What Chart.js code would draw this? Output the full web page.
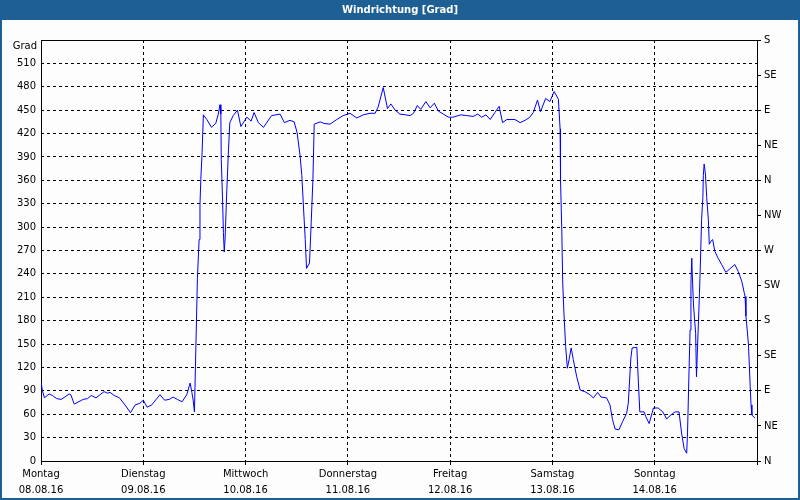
<!DOCTYPE html>
<html>
<head>
<meta charset="utf-8">
<script src="https://cdn.jsdelivr.net/npm/chart.js@4"></script>
<style>
  body { margin: 0; background: #fcfdfc; }
  canvas { display: block; }
</style>
</head>
<body>
<canvas id="grafico" width="800" height="500"></canvas>
<script>
// Stunden ab Montag 00:00 und Windrichtung in Grad
const stunden = [
  0, 0.3, 0.8, 1.9, 2.7, 3.7, 4.7, 5.6, 6.6, 7.0, 7.8, 9.2, 9.9, 10.9, 11.8, 12.9,
  14.8, 15.6, 16.2, 17.2, 18.4, 19.7, 21.0, 22.1, 23.2, 24.0, 24.9, 26.0, 27.9,
  29.0, 30.1, 31.0, 32.0, 33.1, 34.2, 35.0, 35.4, 35.7, 36.0, 36.7, 37.1, 37.3,
  37.5, 37.8, 38.1, 38.9, 40.0, 41.0, 41.6, 42.0, 42.2, 42.3, 42.6, 42.8, 43.0,
  43.2, 43.6, 44.0, 44.3, 45.1, 46.1, 46.9, 48.3, 49.3, 50.0, 51.0, 52.2, 54.1,
  56.1, 57.1, 58.4, 59.4, 60.1, 60.8, 61.2, 61.7, 62.0, 62.3, 63.0, 63.4, 63.8,
  64.1, 65.5, 66.4, 67.8, 69.4, 70.9, 72.5, 74.1, 75.6, 77.2, 78.4, 79.1, 80.3,
  81.3, 82.1, 83.1, 84.2, 85.6, 86.6, 87.4, 88.3, 89.1, 90.3, 91.3, 92.3, 93.2,
  94.4, 95.6, 96.7, 98.5, 99.9, 101.4, 102.5, 103.4, 104.4, 105.4, 106.5, 107.5,
  108.3, 109.3, 111.2, 112.4, 113.6, 114.7, 115.5, 116.5, 117.2, 118.4, 119.4,
  120.4, 121.4, 121.8, 121.9, 122.2, 122.4, 122.7, 123.1, 123.5, 123.9, 124.4,
  124.9, 125.7, 126.5, 127.6, 128.8, 129.6, 130.6, 131.4, 132.7, 133.5, 134.1,
  134.7, 135.6, 136.5, 137.4, 137.8, 138.4, 138.7, 139.8, 140.0, 140.5, 141.5,
  141.9, 142.7, 143.7, 144.8, 145.9, 146.8, 147.8, 148.8, 149.7, 150.3, 150.9,
  151.5, 151.7, 152.0, 152.3, 152.5, 152.7, 152.8, 153.1, 153.6, 153.8, 154.5,
  154.7, 155.0, 155.3, 155.4, 155.6, 155.9, 156.2, 156.6, 156.8, 157.2, 157.6,
  158.1, 158.8, 159.7, 160.7, 162.8, 163.6, 164.4, 165.0, 165.2, 165.4, 165.7,
  166.0, 166.2, 166.4, 166.6, 166.8, 167.5
];
const grad = [
  102, 91, 81, 86, 84, 80, 79, 82, 86, 85, 73, 77, 79, 80, 84, 81,
  89, 87, 88, 84, 81, 72, 62, 72, 74, 78, 69, 72, 85,
  78, 79, 82, 79, 76, 85, 100, 88, 78, 63, 234, 284, 329,
  361, 396, 444, 438, 428, 433, 445, 457, 445, 387, 336, 293, 268,
  286, 348, 400, 434, 443, 450, 429, 441, 436, 447, 434, 428, 443,
  445, 434, 437, 435, 421, 391, 366, 314, 284, 247, 254, 306, 361,
  432, 435, 433, 432, 438, 443, 446, 440, 444, 446, 446, 454, 479,
  452, 458, 450, 445, 444, 443, 446, 456, 451, 461, 453, 459, 449,
  445, 441, 441, 444, 443, 442, 445, 441, 444, 438, 447, 455,
  434, 438, 438, 434, 437, 441, 447, 463, 448, 465, 461,
  474, 464, 426, 361, 295, 231, 190, 147, 119, 130, 145,
  130, 108, 91, 89, 85, 81, 88, 82, 81, 72, 53,
  41, 40, 51, 61, 74, 132, 145, 146, 121, 63, 63,
  57, 48, 68, 68, 63, 54, 59, 63, 63, 36, 16,
  10, 36, 104, 168, 228, 260, 241, 200, 164, 108, 215,
  250, 310, 338, 366, 381, 368, 338, 308, 278, 282, 284,
  269, 261, 252, 242, 252, 243, 231, 216, 211, 186, 168,
  149, 123, 96, 72, 59, 55
];

const tage = ['Montag', 'Dienstag', 'Mittwoch', 'Donnerstag', 'Freitag', 'Samstag', 'Sonntag'];
const datum = ['08.08.16', '09.08.16', '10.08.16', '11.08.16', '12.08.16', '13.08.16', '14.08.16'];
const richtungen = ['N', 'NE', 'E', 'SE', 'S', 'SW', 'W', 'NW', 'N', 'NE', 'E', 'SE', 'S'];

const blau = '#1e6094';
const schrift = 'DejaVu Sans';

const rahmen = {
    id: 'rahmen',
    beforeDraw(chart) {
        const ctx = chart.ctx;
        ctx.save();
        ctx.fillStyle = '#fcfdfc';
        ctx.fillRect(0, 0, 800, 500);
        ctx.fillStyle = blau;
        ctx.fillRect(0, 0, 800, 20);
        ctx.fillRect(0, 0, 2, 500);
        ctx.fillRect(798, 0, 2, 500);
        ctx.fillRect(0, 498, 800, 2);
        ctx.restore();
    },
    beforeDatasetsDraw(chart) {
        const ctx = chart.ctx;
        const a = chart.chartArea;
        ctx.save();
        ctx.strokeStyle = '#000';
        ctx.lineWidth = 1;
        ctx.strokeRect(Math.round(a.left) + 0.5, Math.round(a.top) + 0.5,
            Math.round(a.right - a.left), Math.round(a.bottom - a.top));
        ctx.fillStyle = '#000';
        ctx.font = '10px ' + schrift;
        ctx.textAlign = 'right';
        ctx.textBaseline = 'middle';
        ctx.fillText('Grad', 37, 46);
        ctx.restore();
    }
};

const ctx = document.getElementById('grafico');

new Chart(ctx, {
    type: 'line',
    data: {
        datasets: [{
            label: 'Windrichtung',
            data: stunden.map((h, i) => ({ x: h, y: grad[i] })),
            borderColor: '#0000ff',
            borderWidth: 1,
            pointRadius: 0,
            tension: 0,
            fill: false
        }]
    },
    options: {
        responsive: false,
        animation: false,
        layout: { padding: 0 },
        plugins: {
            legend: { display: false },
            tooltip: { enabled: false },
            title: {
                display: true,
                text: 'Windrichtung [Grad]',
                color: '#ffffff',
                font: { family: schrift, size: 10, weight: 'bold', lineHeight: '20px' },
                padding: { top: 0, bottom: 20 }
            }
        },
        scales: {
            x: {
                type: 'linear',
                min: 0,
                max: 168,
                afterFit: (s) => { s.height = 39; },
                afterBuildTicks: (s) => {
                    s.ticks = [0, 24, 48, 72, 96, 120, 144, 168].map(v => ({ value: v }));
                },
                ticks: {
                    autoSkip: false,
                    maxRotation: 0,
                    padding: 1,
                    color: '#000',
                    font: { family: schrift, size: 10, lineHeight: 1.6 },
                    callback: (v) => {
                        const i = v / 24;
                        return i < tage.length ? [tage[i], datum[i]] : '';
                    }
                },
                grid: {
                    color: (c) => (c.tick && (c.tick.value === 0 || c.tick.value === 168)) ? 'rgba(0,0,0,0)' : '#000',
                    tickLength: 4,
                    tickColor: '#000',
                    tickBorderDash: []
                },
                border: { display: false, dash: [3, 3] }
            },
            y: {
                min: 0,
                max: 540,
                afterFit: (s) => { s.width = 41; },
                ticks: {
                    stepSize: 30,
                    padding: 5,
                    color: '#000',
                    font: { family: schrift, size: 10 },
                    callback: (v) => v === 540 ? '' : v
                },
                grid: {
                    color: (c) => (c.tick && (c.tick.value === 0 || c.tick.value === 540)) ? 'rgba(0,0,0,0)' : '#000',
                    drawTicks: false
                },
                border: { display: false, dash: [3, 3] }
            },
            y2: {
                position: 'right',
                min: 0,
                max: 540,
                afterFit: (s) => { s.width = 43; },
                ticks: {
                    stepSize: 45,
                    padding: 3,
                    color: '#000',
                    font: { family: schrift, size: 10 },
                    callback: (v) => richtungen[v / 45]
                },
                grid: {
                    drawOnChartArea: false,
                    tickLength: 4,
                    color: '#000'
                },
                border: { display: false }
            }
        }
    },
    plugins: [rahmen]
});
</script>
</body>
</html>
